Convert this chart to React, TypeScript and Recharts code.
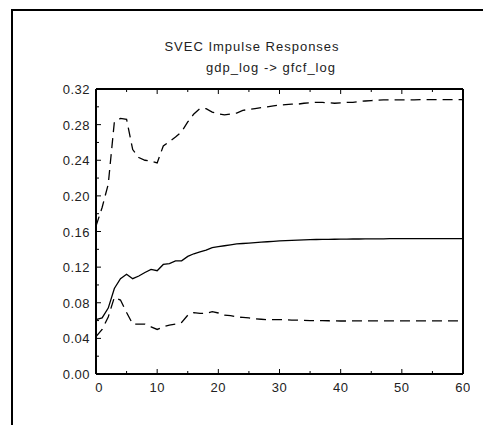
import React from 'react';
import { LineChart, Line, XAxis, YAxis } from 'recharts';

// impulse horizons (periods)
const horizons = [
  0, 1, 2, 3, 4, 5, 6, 7, 8, 9, 10, 11, 12, 13, 14, 15, 16, 17, 18, 19, 20,
  21, 22, 23, 24, 25, 26, 27, 28, 29, 30, 31, 32, 33, 34, 35, 36, 37, 38, 39, 40,
  41, 42, 43, 44, 45, 46, 47, 48, 49, 50, 51, 52, 53, 54, 55, 56, 57, 58, 59, 60,
];

// point estimate of the response
const irf = [
  0.061, 0.063, 0.074, 0.096, 0.107, 0.112, 0.107, 0.11, 0.114, 0.1175,
  0.116, 0.123, 0.124, 0.127, 0.127, 0.132, 0.135, 0.137, 0.139, 0.142,
  0.143, 0.144, 0.145, 0.146, 0.1465, 0.147, 0.1475, 0.148, 0.1485, 0.149,
  0.1495, 0.1498, 0.15, 0.1503, 0.1505, 0.1508, 0.151, 0.1511, 0.1512, 0.1513,
  0.1514, 0.1515, 0.1516, 0.1516, 0.1517, 0.1517, 0.1518, 0.1518, 0.1519, 0.1519,
  0.152, 0.152, 0.152, 0.152, 0.152, 0.152, 0.152, 0.152, 0.152, 0.152, 0.152,
];

// upper confidence band
const upper = [
  0.166, 0.187, 0.213, 0.283, 0.287, 0.286, 0.252, 0.243, 0.24, 0.239,
  0.237, 0.256, 0.261, 0.266, 0.272, 0.283, 0.292, 0.298, 0.298, 0.294,
  0.292, 0.291, 0.292, 0.293, 0.296, 0.297, 0.298, 0.299, 0.3, 0.301,
  0.302, 0.3025, 0.303, 0.303, 0.304, 0.3045, 0.305, 0.305, 0.3045, 0.304,
  0.3045, 0.305, 0.305, 0.306, 0.3065, 0.307, 0.3075, 0.3077, 0.3077, 0.3078,
  0.3078, 0.3079, 0.3079, 0.308, 0.308, 0.308, 0.308, 0.308, 0.308, 0.308, 0.308,
];

// lower confidence band
const lower = [
  0.042, 0.05, 0.064, 0.086, 0.083, 0.069, 0.056, 0.056, 0.056, 0.053,
  0.05, 0.053, 0.055, 0.056, 0.058, 0.066, 0.069, 0.068, 0.068, 0.07,
  0.0685, 0.066, 0.0655, 0.064, 0.0635, 0.063, 0.062, 0.0615, 0.061, 0.061,
  0.061, 0.061, 0.0605, 0.0605, 0.0603, 0.06, 0.06, 0.06, 0.0598, 0.0596,
  0.0595, 0.0595, 0.0596, 0.0596, 0.0597, 0.0597, 0.0597, 0.0597, 0.0597, 0.0597,
  0.0597, 0.0597, 0.0597, 0.0597, 0.0597, 0.0597, 0.0597, 0.0597, 0.0597, 0.0597, 0.0597,
];

const xTicks = [0, 5, 10, 15, 20, 25, 30, 35, 40, 45, 50, 55, 60];
const yTicks = [
  0, 0.02, 0.04, 0.06, 0.08, 0.1, 0.12, 0.14, 0.16, 0.18, 0.2, 0.22, 0.24, 0.26, 0.28, 0.3, 0.32,
];

const data = horizons.map((h, i) => ({ h, irf: irf[i], hi: upper[i], lo: lower[i] }));

const FONT = '"Liberation Sans", Arial, sans-serif';
const isMajorY = (v: number) => Math.round(v * 100) % 4 === 0;

const BottomTick = ({ x, y, payload }: any) => {
  const v = payload.value;
  const major = v % 10 === 0;
  return (
    <g>
      <path d={`M${x},${y}V${y - (major ? 5 : 3)}`} stroke="#000" strokeWidth={1} fill="none" />
      {major && (
        <text x={v === 0 ? x + 3 : x} y={y + 18} textAnchor="middle" fontSize={13} fontFamily={FONT} fill="#222" letterSpacing={0.5}>
          {v}
        </text>
      )}
    </g>
  );
};

const TopTick = ({ x, y, payload }: any) => {
  const major = payload.value % 10 === 0;
  return <path d={`M${x},${y}V${y + (major ? 5 : 3)}`} stroke="#000" strokeWidth={1} fill="none" />;
};

const LeftTick = ({ x, y, payload }: any) => {
  const v = payload.value;
  const major = isMajorY(v);
  return (
    <g>
      <path d={`M${x},${y}H${x + (major ? 5 : 3)}`} stroke="#000" strokeWidth={1} fill="none" />
      {major && (
        <text x={x - 6} y={y + 5} textAnchor="end" fontSize={13} fontFamily={FONT} fill="#222" letterSpacing={0.5}>
          {v.toFixed(2)}
        </text>
      )}
    </g>
  );
};

const RightTick = ({ x, y, payload }: any) => {
  const major = isMajorY(payload.value);
  return <path d={`M${x},${y}H${x - (major ? 5 : 3)}`} stroke="#000" strokeWidth={1} fill="none" />;
};

export default function App() {
  return (
    <div style={{ position: 'fixed', left: 0, top: 0, width: 483, height: 425, background: '#fff', overflow: 'hidden' }}>
      <div style={{ position: 'absolute', left: 11, top: 9, width: 472, height: 416, borderLeft: '2px solid #000', borderTop: '2px solid #000' }} />
      <div style={{ position: 'absolute', left: 252, top: 39, transform: 'translateX(-50%)', whiteSpace: 'nowrap', fontFamily: FONT, fontSize: 13, lineHeight: '15px', letterSpacing: 1, color: '#222' }}>
        SVEC Impulse Responses
      </div>
      <div style={{ position: 'absolute', left: 271, top: 60, transform: 'translateX(-50%)', whiteSpace: 'nowrap', fontFamily: FONT, fontSize: 13, lineHeight: '15px', letterSpacing: 1, color: '#222' }}>
        gdp_log -&gt; gfcf_log
      </div>
      <div style={{ position: 'absolute', left: 0, top: 0, width: 470, height: 425, overflow: 'hidden' }}>
        <LineChart width={470} height={425} data={data} margin={{ top: 88, right: 6, bottom: 21, left: 36 }}>
          <XAxis
            dataKey="h"
            type="number"
            domain={[0, 60]}
            ticks={xTicks}
            interval={0}
            tickSize={0}
            tickMargin={0}
            height={30}
            axisLine={{ stroke: '#000', strokeWidth: 2 }}
            tickLine={false}
            tick={<BottomTick />}
          />
          <XAxis
            xAxisId="top"
            orientation="top"
            type="number"
            domain={[0, 60]}
            ticks={xTicks}
            interval={0}
            tickSize={0}
            tickMargin={0}
            height={1}
            axisLine={{ stroke: '#000', strokeWidth: 2 }}
            tickLine={false}
            tick={<TopTick />}
          />
          <YAxis
            type="number"
            domain={[0, 0.32]}
            ticks={yTicks}
            interval={0}
            tickSize={0}
            tickMargin={0}
            width={60}
            axisLine={{ stroke: '#000', strokeWidth: 2 }}
            tickLine={false}
            tick={<LeftTick />}
          />
          <YAxis
            yAxisId="right"
            orientation="right"
            type="number"
            domain={[0, 0.32]}
            ticks={yTicks}
            interval={0}
            tickSize={0}
            tickMargin={0}
            width={1}
            axisLine={{ stroke: '#000', strokeWidth: 2 }}
            tickLine={false}
            tick={<RightTick />}
          />
          <Line type="linear" dataKey="hi" stroke="#000" strokeWidth={1.3} strokeDasharray="10 6" dot={false} isAnimationActive={false} />
          <Line type="linear" dataKey="irf" stroke="#000" strokeWidth={1.3} dot={false} isAnimationActive={false} />
          <Line type="linear" dataKey="lo" stroke="#000" strokeWidth={1.3} strokeDasharray="10 6" dot={false} isAnimationActive={false} />
        </LineChart>
      </div>
    </div>
  );
}
